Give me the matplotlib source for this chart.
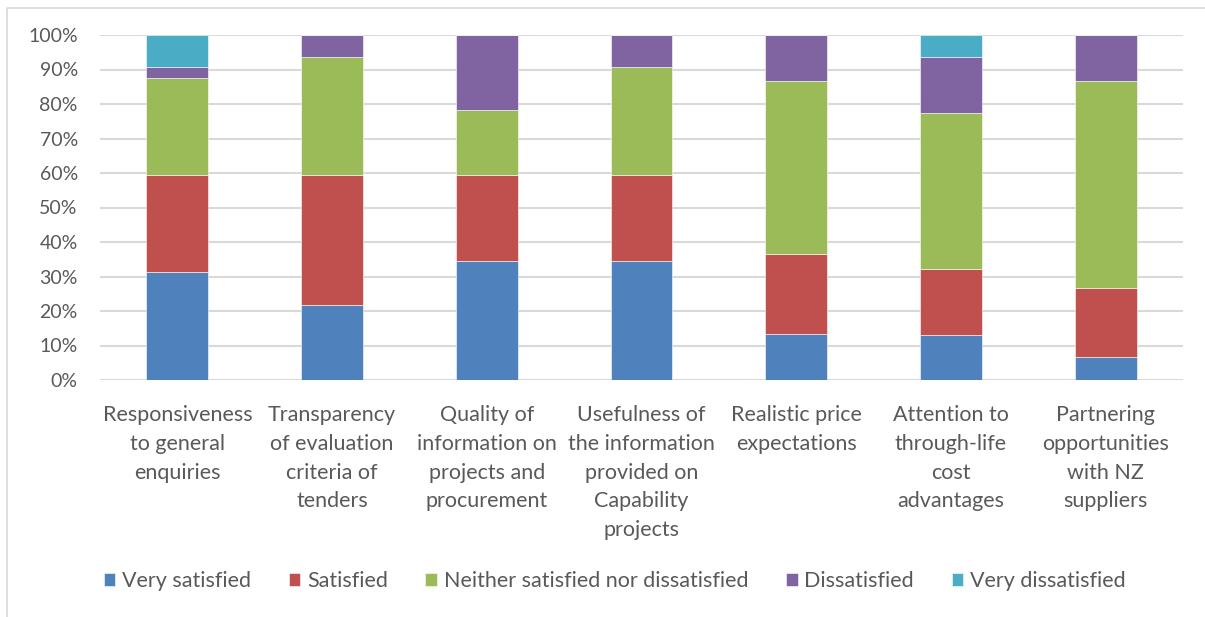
import matplotlib
matplotlib.use("Agg")
import matplotlib.pyplot as plt
from matplotlib.lines import Line2D
import numpy as np

categories = [
    "Responsiveness\nto general\nenquiries",
    "Transparency\nof evaluation\ncriteria of\ntenders",
    "Quality of\ninformation on\nprojects and\nprocurement",
    "Usefulness of\nthe information\nprovided on\nCapability\nprojects",
    "Realistic price\nexpectations",
    "Attention to\nthrough-life\ncost\nadvantages",
    "Partnering\nopportunities\nwith NZ\nsuppliers",
]
series_names = ["Very satisfied", "Satisfied", "Neither satisfied nor dissatisfied",
                "Dissatisfied", "Very dissatisfied"]
very_satisfied    = [31.25, 21.875, 34.375, 34.375, 13.33, 12.9, 6.67]
satisfied         = [28.125, 37.5, 25.0, 25.0, 23.33, 19.35, 20.0]
neither           = [28.125, 34.375, 18.75, 31.25, 50.0, 45.16, 60.0]
dissatisfied      = [3.125, 6.25, 21.875, 9.375, 13.33, 16.13, 13.33]
very_dissatisfied = [9.375, 0.0, 0.0, 0.0, 0.0, 6.45, 0.0]
yticks = list(range(0, 101, 10))
colors = ["#4F81BD", "#C0504D", "#9BBB59", "#8064A2", "#4BACC6"]

plt.rcParams['font.family'] = ['Lato', 'DejaVu Sans']
txt = "#595959"

fig = plt.figure(figsize=(12.05, 6.17), dpi=100)
ax = fig.add_axes([100/1205, 1-380/617, (1183-100)/1205, (380-35)/617])

data = [very_satisfied, satisfied, neither, dissatisfied, very_dissatisfied]
x = np.arange(len(categories))
bottom = np.zeros(len(categories))
for name, vals, c in zip(series_names, data, colors):
    v = np.array(vals)
    ax.bar(x, v, 0.4, bottom=bottom, color=c, label=name, edgecolor="white",
           linewidth=0.4, zorder=3)
    bottom += v

ax.set_xlim(-0.5, len(categories) - 0.5)
ax.set_ylim(0, 100)
ax.set_yticks(yticks)
ax.set_yticklabels([f"{t}%" for t in yticks], fontsize=14, color=txt)
ax.set_xticks(x)
ax.set_xticklabels(categories, fontsize=15.5, color=txt, linespacing=1.55, va="top")
ax.tick_params(axis='both', length=0)
ax.tick_params(axis='x', pad=18)
ax.tick_params(axis='y', pad=16)
ax.yaxis.grid(True, color="#D9D9D9", linewidth=1.5, zorder=0)
ax.set_axisbelow(True)
for s in ax.spines.values():
    s.set_visible(False)

fig.legend(loc="center", bbox_to_anchor=(0.51, 1-581/617), ncol=5, frameon=False,
           fontsize=15.5, handlelength=0.55, handleheight=0.55, handletextpad=0.3,
           columnspacing=1.75, labelcolor=txt)

border = Line2D([7.5/1205, 7.5/1205, 1.0], [0.0, 1-7.5/617, 1-7.5/617],
                transform=fig.transFigure, color="#D9D9D9", linewidth=1.2)
fig.lines.append(border)

fig.savefig("out.png", dpi=100)
